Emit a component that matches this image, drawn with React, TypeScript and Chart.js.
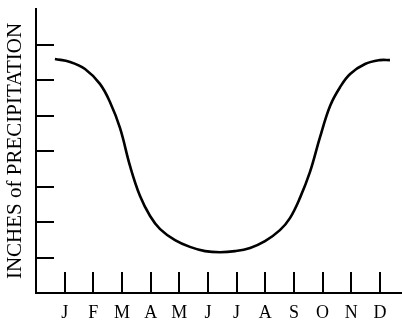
import React, { useEffect, useRef } from "react";
import { Chart, registerables } from "chart.js";

Chart.register(...registerables);

const monthLabels = ["J", "F", "M", "A", "M", "J", "J", "A", "S", "O", "N", "D"];
const monthPositions = [1, 2, 3, 4, 5, 6, 7, 8, 9, 10, 11, 12];
const yTickValues = [1, 2, 3, 4, 5, 6, 7];
const curveX = [0.66, 1.19, 1.71, 2.23, 2.58, 2.93, 3.28, 3.63, 3.98, 4.33, 4.85, 5.37, 5.9, 6.42, 6.94, 7.47, 7.99, 8.51, 8.86, 9.21, 9.56, 9.91, 10.26, 10.61, 10.96, 11.48, 12.0, 12.35];
const curveY = [6.59, 6.51, 6.31, 5.89, 5.38, 4.65, 3.58, 2.73, 2.17, 1.8, 1.49, 1.3, 1.18, 1.15, 1.18, 1.27, 1.46, 1.77, 2.11, 2.68, 3.41, 4.39, 5.27, 5.8, 6.17, 6.45, 6.56, 6.56];
const yTitle = "INCHES of PRECIPITATION";

const SERIF = "'Liberation Serif', serif";

const tickMarks = {
  id: "tickMarks",
  afterDraw(chart: any) {
    const { ctx, chartArea, scales } = chart;
    ctx.save();
    ctx.strokeStyle = "#000";
    ctx.lineWidth = 2;
    ctx.beginPath();
    yTickValues.forEach((v) => {
      const y = Math.round(scales.y.getPixelForValue(v));
      ctx.moveTo(chartArea.left, y);
      ctx.lineTo(chartArea.left + 18, y);
    });
    monthPositions.forEach((m) => {
      const x = Math.round(scales.x.getPixelForValue(m));
      ctx.moveTo(x, chartArea.bottom);
      ctx.lineTo(x, chartArea.bottom - 21);
    });
    ctx.stroke();
    ctx.restore();
  },
};

export default function App() {
  const ref = useRef<HTMLCanvasElement>(null);
  useEffect(() => {
    let chart: any = null;
    let cancelled = false;
    const build = () => {
      if (cancelled || !ref.current) return;
      chart = new Chart(ref.current, {
        type: "line",
        data: {
          datasets: [
            {
              data: curveX.map((x, i) => ({ x, y: curveY[i] })),
              borderColor: "#000",
              borderWidth: 2.6,
              pointRadius: 0,
              tension: 0.4,
              fill: false,
            },
          ],
        },
        options: {
          animation: false,
          responsive: false,
          devicePixelRatio: 1,
          layout: { padding: { top: 9, right: 0, left: 0, bottom: 0 } },
          plugins: { legend: { display: false }, tooltip: { enabled: false } },
          scales: {
            x: {
              type: "linear",
              min: 0,
              max: 12.77,
              grid: { display: false, drawTicks: false },
              border: { display: true, color: "#000", width: 2 },
              afterBuildTicks: (scale: any) => {
                scale.ticks = monthPositions.map((v) => ({ value: v }));
              },
              ticks: {
                autoSkip: false,
                maxRotation: 0,
                padding: 9,
                color: "#000",
                font: { family: SERIF, size: 18 },
                callback: (v: any) => {
                  const i = monthPositions.indexOf(Number(v));
                  return i >= 0 ? monthLabels[i] : "";
                },
              },
              afterFit: (scale: any) => {
                scale.height = 29;
              },
            },
            y: {
              type: "linear",
              min: 0,
              max: 8,
              grid: { display: false, drawTicks: false },
              border: { display: true, color: "#000", width: 2 },
              ticks: { display: false },
              title: {
                display: true,
                text: yTitle,
                color: "#000",
                font: { family: SERIF, size: 21 },
                padding: { top: 3, bottom: 0 },
              },
              afterFit: (scale: any) => {
                scale.width = 36;
              },
            },
          },
        },
        plugins: [tickMarks],
      });
    };
    const fonts: any = (document as any).fonts;
    if (fonts && fonts.load) {
      Promise.all([fonts.load("21px 'Liberation Serif'"), fonts.load("18px 'Liberation Serif'")])
        .catch(() => null)
        .then(build);
    } else {
      build();
    }
    return () => {
      cancelled = true;
      if (chart) chart.destroy();
    };
  }, []);
  return (
    <div style={{ position: "absolute", left: 0, top: 0, width: 402, height: 322, background: "#fff" }}>
      <canvas ref={ref} width={402} height={322} />
    </div>
  );
}
